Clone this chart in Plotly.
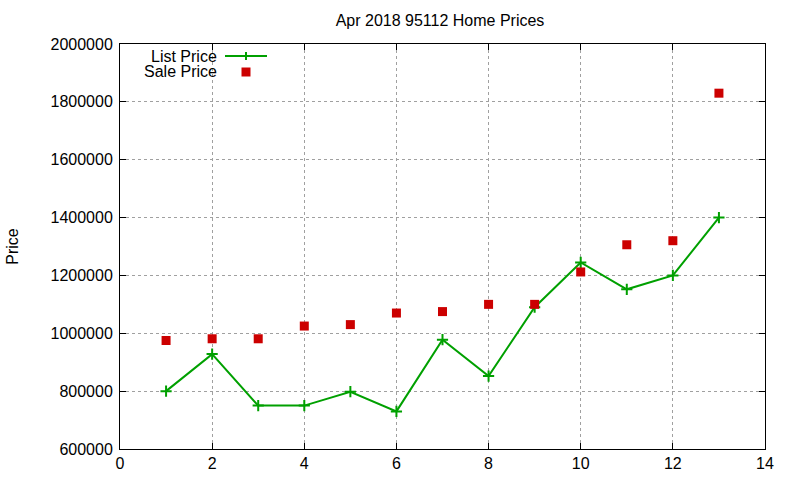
import plotly.graph_objects as go

months = [1, 2, 3, 4, 5, 6, 7, 8, 9, 10, 11, 12, 13]
list_price = [800000, 928000, 750000, 750000, 798000, 730000, 978000, 852000,
              1090000, 1245000, 1152000, 1200000, 1400000]
sale_price = [975000, 981000, 981000, 1025000, 1030000, 1070000, 1075000, 1100000,
              1100000, 1212000, 1306000, 1320000, 1830000]

GREEN = "#00a000"
RED = "#cc0000"
FONT = "Liberation Sans, Arial, sans-serif"
FS = 16

fig = go.Figure()
fig.add_trace(go.Scatter(
    x=months, y=list_price, name="List Price", mode="lines+markers",
    line=dict(color=GREEN, width=2),
    marker=dict(symbol="cross-thin", size=8, line=dict(color=GREEN, width=2), color=GREEN),
    showlegend=False))
fig.add_trace(go.Scatter(
    x=months, y=sale_price, name="Sale Price", mode="markers",
    marker=dict(symbol="square", size=9, color=RED),
    showlegend=False))

axis_common = dict(
    showline=True, linecolor="black", linewidth=1, mirror="allticks",
    ticks="inside", ticklen=6, tickcolor="black", automargin=False,
    showgrid=True, gridcolor="#a0a0a0", griddash="dot", gridwidth=1,
    zeroline=False, tickfont=dict(family=FONT, size=FS, color="black"),
)

fig.update_xaxes(range=[0, 14], dtick=2, **axis_common)
fig.update_yaxes(range=[600000, 2000000], dtick=200000, tickformat="d",
                 ticklabelstandoff=3,
                 title=dict(text="Price", font=dict(family=FONT, size=FS, color="black"),
                            standoff=27),
                 **axis_common)

# Manual gnuplot-style legend (text right-aligned, key sample on the right)
def px_x(p):
    return (p - 120) / 645.0

def px_y(p):
    return 1 - (p - 44) / 405.0

for label, ypx in (("List Price", 56), ("Sale Price", 71)):
    fig.add_annotation(x=px_x(219), y=px_y(ypx), xref="paper", yref="paper", text=label,
                       showarrow=False, xanchor="right", yanchor="middle", height=14,
                       font=dict(family=FONT, size=FS, color="black"))
fig.add_shape(type="line", xref="paper", yref="paper",
              x0=px_x(225), x1=px_x(267), y0=px_y(56), y1=px_y(56),
              line=dict(color=GREEN, width=2))
fig.add_shape(type="line", xref="paper", yref="paper",
              x0=px_x(246), x1=px_x(246), y0=px_y(52), y1=px_y(60),
              line=dict(color=GREEN, width=2))
fig.add_shape(type="rect", xref="paper", yref="paper",
              x0=px_x(241.5), x1=px_x(250.5), y0=px_y(67.5), y1=px_y(76.5),
              line=dict(width=0), fillcolor=RED)

fig.update_layout(
    width=800, height=480,
    margin=dict(l=120, r=35, t=44, b=31),
    paper_bgcolor="white", plot_bgcolor="white",
    title=dict(text="Apr 2018 95112 Home Prices", x=440 / 800, xanchor="center",
               y=1 - 20 / 480, yanchor="middle",
               font=dict(family=FONT, size=FS, color="black")),
    font=dict(family=FONT, size=FS, color="black"),
)

fig.write_html("out.html")
